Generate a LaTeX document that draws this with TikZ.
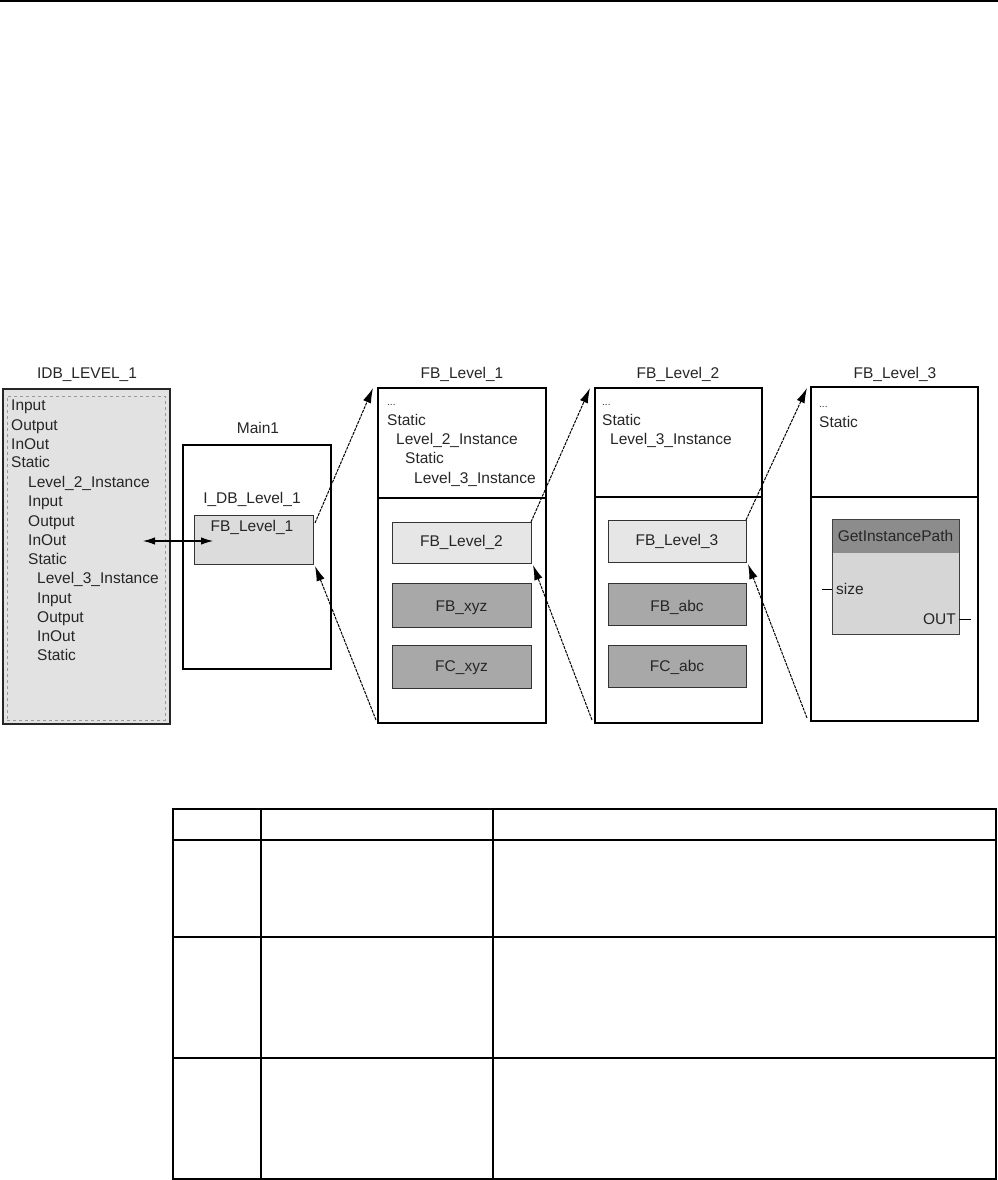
\documentclass[tikz,border=0pt]{standalone}
\usepackage{fontspec}
\setmainfont{Liberation Sans}
\usetikzlibrary{fit,arrows.meta}
\definecolor{txt}{HTML}{262626}
\definecolor{idbfill}{HTML}{E2E2E2}
\definecolor{selfill}{HTML}{DCDCDC}
\definecolor{litefill}{HTML}{E6E6E6}
\definecolor{darkfill}{HTML}{A8A8A8}
\definecolor{hdrfill}{HTML}{8C8C8C}
\definecolor{bodyfill}{HTML}{D6D6D6}
\tikzset{
  lbl/.style={font=\fontsize{15.5}{18}\selectfont, text=txt, inner sep=0pt},
  itm/.style={lbl, anchor=base west},
  dots/.style={font=\fontsize{10}{12}\selectfont, text=txt, inner sep=0pt, anchor=base west},
  boxfit/.style={fit=#1, inner sep=0pt, outer sep=0pt},
  heavybox/.style={draw=black, line width=2.2pt},
  thinbox/.style={draw=black!85, line width=1.1pt},
  conn/.style={line width=1pt, dash pattern=on 3pt off 1pt, -{Latex[length=15pt,width=8.5pt]}},
  dconn/.style={line width=1.1pt, {Latex[length=12pt,width=7.5pt]}-{Latex[length=12pt,width=7.5pt]}},
  pin/.style={line width=1pt},
  tbl/.style={line width=1.7pt},
}
\begin{document}
\begin{tikzpicture}[x=1pt,y=-1pt]
\useasboundingbox (0,0) rectangle (998,1180);
% top rule
\coordinate (tl) at (0,1);
\coordinate (tr) at (998,1);
\draw[line width=1.2pt] (tl) -- (tr);

% ---------------- IDB_LEVEL_1 ----------------
\coordinate (idbA) at (3,389); \coordinate (idbB) at (170,724);
\node[boxfit={(idbA)(idbB)}, thinbox, fill=idbfill] (idb) {};
\coordinate (idbiA) at (7,396); \coordinate (idbiB) at (165,720);
\node[boxfit={(idbiA)(idbiB)}, draw=gray!80, dashed, line width=0.6pt] (idbin) {};
\node[lbl] (idbt) at (87,375) {IDB\_LEVEL\_1};
\node[itm] (i1) at (11,410.5) {Input};
\node[itm] (i2) at (11,430) {Output};
\node[itm] (i3) at (11,449.5) {InOut};
\node[itm] (i4) at (11,467.5) {Static};
\node[itm] (i5) at (28,487.5) {Level\_2\_Instance};
\node[itm] (i6) at (28,506.5) {Input};
\node[itm] (i7) at (28,526) {Output};
\node[itm] (i8) at (28,545.5) {InOut};
\node[itm] (i9) at (28,564.5) {Static};
\node[itm] (i10) at (37,583.5) {Level\_3\_Instance};
\node[itm] (i11) at (37,603) {Input};
\node[itm] (i12) at (37,622.5) {Output};
\node[itm] (i13) at (37,641.5) {InOut};
\node[itm] (i14) at (37,660.5) {Static};

% ---------------- Main1 ----------------
\coordinate (mA) at (183,445); \coordinate (mB) at (331,669);
\node[boxfit={(mA)(mB)}, heavybox] (main) {};
\node[lbl] (maint) at (258,428) {Main1};
\node[lbl] (idbl) at (252,499) {I\_DB\_Level\_1};
\coordinate (miA) at (194,515); \coordinate (miB) at (313,564);
\node[boxfit={(miA)(miB)}, draw=black!80, line width=1pt, fill=selfill] (mfb) {};
\node[lbl] (mfbt) at (252,527) {FB\_Level\_1};

% ---------------- FB_Level_1 ----------------
\coordinate (aA) at (378,388); \coordinate (aB) at (546,723);
\node[boxfit={(aA)(aB)}, heavybox] (fb1) {};
\coordinate (aL) at (378,498); \coordinate (aR) at (546,498);
\draw[line width=2.2pt] (aL) -- (aR);
\node[lbl] (fb1t) at (462,374) {FB\_Level\_1};
\node[dots] (a0) at (387,405) {...};
\node[itm] (a1) at (387,425.5) {Static};
\node[itm] (a2) at (396,444.5) {Level\_2\_Instance};
\node[itm] (a3) at (405,463.5) {Static};
\node[itm] (a4) at (414,483.5) {Level\_3\_Instance};
\coordinate (b1A) at (392,522); \coordinate (b1B) at (531,563);
\node[boxfit={(b1A)(b1B)}, draw=black!80, line width=1pt, fill=litefill] (fb2in) {};
\node[lbl] at (fb2in.center) {FB\_Level\_2};
\coordinate (b2A) at (392,583); \coordinate (b2B) at (531,627);
\node[boxfit={(b2A)(b2B)}, draw=black!80, line width=1pt, fill=darkfill] (fbxyz) {};
\node[lbl] at ([yshift=-3pt]fbxyz.center) {FB\_xyz};
\coordinate (b3A) at (392,645); \coordinate (b3B) at (531,688);
\node[boxfit={(b3A)(b3B)}, draw=black!80, line width=1pt, fill=darkfill] (fcxyz) {};
\node[lbl] at ([yshift=-1pt]fcxyz.center) {FC\_xyz};

% ---------------- FB_Level_2 ----------------
\coordinate (cA) at (595,388); \coordinate (cB) at (762,723);
\node[boxfit={(cA)(cB)}, heavybox] (fb2) {};
\coordinate (cL) at (595,497); \coordinate (cR) at (762,497);
\draw[line width=2.2pt] (cL) -- (cR);
\node[lbl] (fb2t) at (678,374) {FB\_Level\_2};
\node[dots] (c0) at (602,405) {...};
\node[itm] (c1) at (602,425.5) {Static};
\node[itm] (c2) at (610,444.5) {Level\_3\_Instance};
\coordinate (d1A) at (608,520); \coordinate (d1B) at (746,562);
\node[boxfit={(d1A)(d1B)}, draw=black!80, line width=1pt, fill=litefill] (fb3in) {};
\node[lbl] at (fb3in.center) {FB\_Level\_3};
\coordinate (d2A) at (608,583); \coordinate (d2B) at (746,625);
\node[boxfit={(d2A)(d2B)}, draw=black!80, line width=1pt, fill=darkfill] (fbabc) {};
\node[lbl] at ([yshift=-3pt]fbabc.center) {FB\_abc};
\coordinate (d3A) at (608,645); \coordinate (d3B) at (746,687);
\node[boxfit={(d3A)(d3B)}, draw=black!80, line width=1pt, fill=darkfill] (fcabc) {};
\node[lbl] at ([yshift=-1pt]fcabc.center) {FC\_abc};

% ---------------- FB_Level_3 ----------------
\coordinate (eA) at (811,387); \coordinate (eB) at (978,721);
\node[boxfit={(eA)(eB)}, heavybox] (fb3) {};
\coordinate (eL) at (811,497); \coordinate (eR) at (978,497);
\draw[line width=2.2pt] (eL) -- (eR);
\node[lbl] (fb3t) at (895,374) {FB\_Level\_3};
\node[dots] (e0) at (819,407) {...};
\node[itm] (e1) at (819,427.5) {Static};
\coordinate (gA) at (832,519); \coordinate (gB) at (959,634);
\node[boxfit={(gA)(gB)}, fill=bodyfill] (gip) {};
\coordinate (ghA) at (832,519); \coordinate (ghB) at (959,553);
\node[boxfit={(ghA)(ghB)}, fill=hdrfill] (giph) {};
\draw[black!75, line width=1pt] (gip.south west) rectangle (gip.north east);
\node[lbl] at (giph.center) {GetInstancePath};
\coordinate (szL) at (822,589); \coordinate (szR) at (832,589);
\draw[pin] (szL) -- (szR);
\node[itm] (size) at (836,594.5) {size};
\coordinate (ouL) at (959,619); \coordinate (ouR) at (971,619);
\draw[pin] (ouL) -- (ouR);
\node[lbl, anchor=base east] (out) at (956,624.5) {OUT};

% ---------------- connectors ----------------
\coordinate (k1s) at (315,523); \coordinate (k1e) at (373,388);
\draw[conn] (k1s) -- (k1e);
\coordinate (k2s) at (376,720); \coordinate (k2e) at (315,566);
\draw[conn] (k2s) -- (k2e);
\coordinate (k3s) at (531,522); \coordinate (k3e) at (590,388);
\draw[conn] (k3s) -- (k3e);
\coordinate (k4s) at (592,720); \coordinate (k4e) at (533,565);
\draw[conn] (k4s) -- (k4e);
\coordinate (k5s) at (746,520); \coordinate (k5e) at (807,388);
\draw[conn] (k5s) -- (k5e);
\coordinate (k6s) at (807,718); \coordinate (k6e) at (748,564);
\draw[conn] (k6s) -- (k6e);
\coordinate (dl) at (143,541); \coordinate (dr) at (213,541);
\draw[dconn] (dl) -- (dr);

% ---------------- table ----------------
\coordinate (t00) at (173,809); \coordinate (t11) at (996,1179);
\draw[tbl] (t00) rectangle (t11);
\foreach \yy in {840,937,1058} \draw[tbl] (173,\yy) -- (996,\yy);
\foreach \xx in {261,493} \draw[tbl] (\xx,809) -- (\xx,1179);
\end{tikzpicture}
\end{document}
